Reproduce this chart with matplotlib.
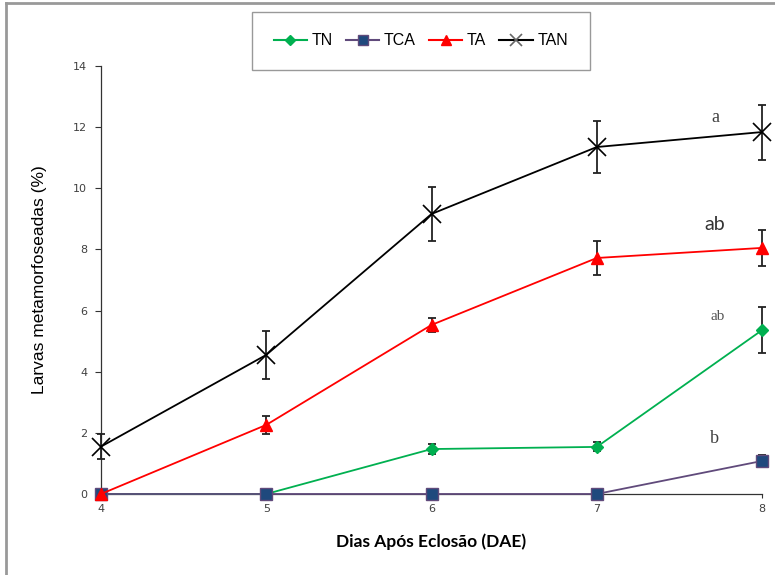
import numpy as np
import matplotlib.pyplot as plt
from matplotlib.lines import Line2D

# dias apos eclosao
dias = [4, 5, 6, 7, 8]

# % de larvas metamorfoseadas por tratamento
tn = [0.0, 0.0, 1.47, 1.54, 5.36]
tn_err = [0.0, 0.0, 0.15, 0.15, 0.75]

tca = [0.0, 0.0, 0.0, 0.0, 1.08]
tca_err = [0.0, 0.0, 0.0, 0.0, 0.2]

ta = [0.0, 2.26, 5.53, 7.72, 8.05]
ta_err = [0.0, 0.3, 0.23, 0.57, 0.6]

tan = [1.55, 4.55, 9.16, 11.35, 11.84]
tan_err = [0.4, 0.78, 0.88, 0.85, 0.9]

# letras de significancia no dia 8
letras = ['a', 'ab', 'ab', 'b']
letras_y = [12.33, 8.8, 5.82, 1.83]

fig = plt.figure(figsize=(7.75, 5.75), dpi=100)
ax = fig.add_axes([0.1303, 0.1409, 0.853, 0.7443])

series = [
    ('TN', tn, tn_err, dict(color='#00B050', marker='D', markersize=6,
                            markerfacecolor='#00B050', markeredgecolor='#00B050')),
    ('TCA', tca, tca_err, dict(color='#604A7B', marker='s', markersize=9,
                               markerfacecolor='#1F497D', markeredgecolor='#604A7B')),
    ('TA', ta, ta_err, dict(color='#FF0000', marker='^', markersize=9,
                            markerfacecolor='#FF0000', markeredgecolor='#FF0000')),
    ('TAN', tan, tan_err, dict(color='black', marker='x', markersize=13,
                               markeredgewidth=1.2)),
]

for nome, y, err, st in series:
    ax.errorbar(dias, y, yerr=err, fmt='none', ecolor='#222222', elinewidth=1.3,
                capsize=3, capthick=1.3, clip_on=False, zorder=3)
    ax.plot(dias, y, linewidth=1.3, clip_on=False, zorder=4, label=nome, **st)

ax.set_xlim(4, 8)
ax.set_ylim(0, 14)
ax.set_xticks(dias)
ax.set_yticks(np.arange(0, 15, 2))

for s in ['top', 'right']:
    ax.spines[s].set_visible(False)
for s in ['left', 'bottom']:
    ax.spines[s].set_linewidth(0.9)
    ax.spines[s].set_color('#333333')

ax.tick_params(axis='both', direction='out', length=4, width=0.8, colors='#333333',
               labelsize=8, labelcolor='#404040')
ax.tick_params(axis='y', pad=6)
ax.tick_params(axis='x', length=3, pad=4)

ax.set_ylabel('Larvas metamorfoseadas (%)', fontsize=12.5, family='Liberation Sans',
              color='black', labelpad=19)
ax.set_xlabel('Dias Após Eclosão (DAE)', fontsize=12.5, fontweight='bold',
              family='Lato', color='black', labelpad=14)

# letras
ax.text(7.716, letras_y[0], letras[0], fontsize=13, family='Liberation Serif',
        color='#404040', ha='center', va='center')
ax.text(7.716, letras_y[1], letras[1], fontsize=14, family='Lato',
        color='#333333', ha='center', va='center')
ax.text(7.73, letras_y[2], letras[2], fontsize=11, family='Liberation Serif',
        color='#555555', ha='center', va='center')
ax.text(7.71, letras_y[3], letras[3], fontsize=13, family='Liberation Serif',
        color='#404040', ha='center', va='center')

# legenda
handles = [Line2D([0], [0], linewidth=1.5, **st) for _, _, _, st in series]
for h in handles:
    if h.get_marker() == 'x':
        h.set_markersize(8)
        h.set_markeredgecolor('#666666')
    else:
        h.set_markersize(h.get_markersize() * 0.8)
leg = fig.legend(handles, [s[0] for s in series], loc='center', ncol=4,
                 bbox_to_anchor=(0.543, 0.929), frameon=True, fancybox=False,
                 prop={'family': 'Liberation Sans', 'size': 11.5},
                 borderpad=1.35, handlelength=2.1, handletextpad=0.3,
                 columnspacing=0.8)
leg.get_frame().set_edgecolor('#808080')
leg.get_frame().set_linewidth(1.0)

# moldura da figura (topo e esquerda)
fig.add_artist(Line2D([0.008, 1.0], [0.995, 0.995], color='#999999', linewidth=2,
                      transform=fig.transFigure))
fig.add_artist(Line2D([0.008, 0.008], [0.0, 0.995], color='#999999', linewidth=2,
                      transform=fig.transFigure))

fig.savefig('out.png', dpi=100)
